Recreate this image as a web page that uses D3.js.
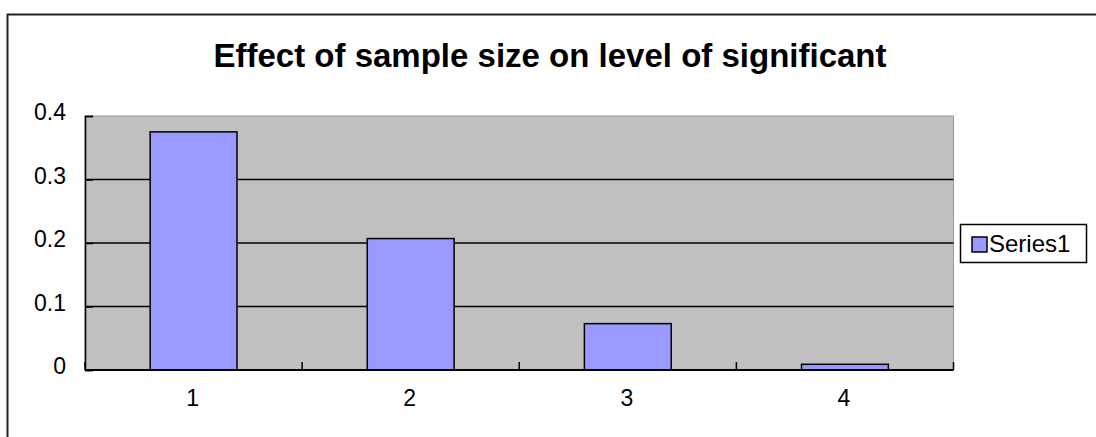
<!DOCTYPE html>
<html>
<head>
<meta charset="utf-8">
<script src="https://cdn.jsdelivr.net/npm/d3@7"></script>
<style>
  html, body { margin: 0; padding: 0; background: #fff; }
  svg { display: block; }
  text { font-family: "Liberation Sans", Arial, sans-serif; fill: #000; }
</style>
</head>
<body>
<svg id="chart" width="1096" height="437"></svg>
<script>
const categories = ["1", "2", "3", "4"];
const series1 = [0.375, 0.207, 0.073, 0.009];
const yTicks = [0, 0.1, 0.2, 0.3, 0.4];
const yTickLabels = ["0", "0.1", "0.2", "0.3", "0.4"];
const seriesName = "Series1";
const title = "Effect of sample size on level of significant";

const svg = d3.select("#chart");
const plot = { left: 85, top: 116, right: 953.5, bottom: 370 };

// outer chart border (extends beyond the picture to the right and bottom)
svg.append("rect")
  .attr("x", 7.5).attr("y", 14.5)
  .attr("width", 1200).attr("height", 600)
  .attr("fill", "#fff").attr("stroke", "#222").attr("stroke-width", 2);

const x = d3.scaleBand().domain(categories).range([plot.left, plot.right]).paddingInner(0.6).paddingOuter(0.3);
const xOuter = d3.scaleBand().domain(categories).range([plot.left, plot.right]);
const y = d3.scaleLinear().domain([0, 0.4]).range([plot.bottom, plot.top]);

// plot area
svg.append("rect")
  .attr("x", plot.left).attr("y", plot.top)
  .attr("width", plot.right - plot.left).attr("height", plot.bottom - plot.top)
  .attr("fill", "#C0C0C0").attr("stroke", "#9a9a9a").attr("stroke-width", 1);

// gridlines
svg.append("g").selectAll("line")
  .data(yTicks.filter(d => d > 0 && d < 0.4))
  .join("line")
  .attr("x1", plot.left).attr("x2", plot.right)
  .attr("y1", d => y(d)).attr("y2", d => y(d))
  .attr("stroke", "#000").attr("stroke-width", 1.5);

// bars
svg.append("g").selectAll("rect")
  .data(series1)
  .join("rect")
  .attr("x", (d, i) => x(categories[i]))
  .attr("width", x.bandwidth())
  .attr("y", d => y(d))
  .attr("height", d => y(0) - y(d))
  .attr("fill", "#9999FF").attr("stroke", "#000").attr("stroke-width", 1.5);

// y axis
const yAxis = d3.axisRight(y).tickValues(yTicks).tickSize(8).tickFormat(() => "");
const gy = svg.append("g").attr("transform", `translate(${plot.left},0)`).call(yAxis);
gy.select(".domain").attr("stroke", "#000").attr("stroke-width", 1.5);
gy.selectAll(".tick line").attr("stroke", "#000").attr("stroke-width", 1.5);

svg.append("g").selectAll("text")
  .data(yTicks)
  .join("text")
  .attr("x", 66).attr("y", d => y(d) + 4)
  .attr("text-anchor", "end")
  .style("font-size", "23px")
  .text((d, i) => yTickLabels[i]);

// x axis line
svg.append("line")
  .attr("x1", plot.left).attr("x2", plot.right)
  .attr("y1", plot.bottom).attr("y2", plot.bottom)
  .attr("stroke", "#000").attr("stroke-width", 2);

// x ticks at category boundaries (inward)
const boundaries = categories.map(c => xOuter(c)).concat([plot.right]);
svg.append("g").selectAll("line")
  .data(boundaries)
  .join("line")
  .attr("x1", d => d).attr("x2", d => d)
  .attr("y1", plot.bottom).attr("y2", plot.bottom - 8)
  .attr("stroke", "#000").attr("stroke-width", 1.5);

// x labels
svg.append("g").selectAll("text")
  .data(categories)
  .join("text")
  .attr("x", d => xOuter(d) + xOuter.bandwidth() / 2 - 1)
  .attr("y", 406)
  .attr("text-anchor", "middle")
  .style("font-size", "23px")
  .text(d => d);

// title
svg.append("text")
  .attr("x", 550).attr("y", 67)
  .attr("text-anchor", "middle")
  .style("font-size", "33px").style("font-weight", "bold")
  .text(title);

// legend
const lg = svg.append("g");
lg.append("rect")
  .attr("x", 960.5).attr("y", 224.5).attr("width", 126).attr("height", 38)
  .attr("fill", "#fff").attr("stroke", "#000").attr("stroke-width", 1.5);
lg.append("rect")
  .attr("x", 972).attr("y", 237).attr("width", 15).attr("height", 15)
  .attr("fill", "#9999FF").attr("stroke", "#000").attr("stroke-width", 1.5);
lg.append("text")
  .attr("x", 989).attr("y", 252)
  .style("font-size", "24px")
  .text(seriesName);
</script>
</body>
</html>
